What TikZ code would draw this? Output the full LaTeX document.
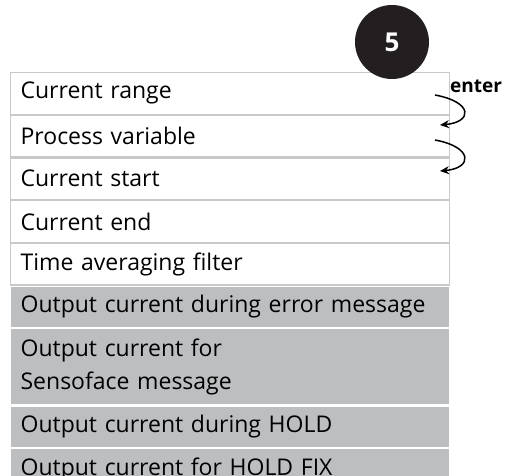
\documentclass[tikz,border=0pt]{standalone}
\usepackage{fontspec}
\setmainfont{Open Sans}
\usetikzlibrary{arrows.meta, positioning}

\definecolor{rowgray}{HTML}{BCBEC0}
\definecolor{linegray}{HTML}{C8C9CB}
\definecolor{circblack}{HTML}{231F20}

\tikzset{
  row/.style={draw=linegray, line width=1.2pt, fill=white, anchor=north west,
    minimum width=439pt, text width=419pt, inner xsep=10pt, inner ysep=0pt,
    minimum height=41.5pt, align=left, font=\fontsize{23}{33}\selectfont},
  grayrow/.style={row, fill=rowgray, draw=white},
  turn/.style={-{Stealth[length=9pt,width=8pt]}, line width=1.5pt}
}

\begin{document}
\begin{tikzpicture}[x=1pt, y=-1pt]
  \useasboundingbox (0,0) rectangle (512,475);

  % Menuezeilen
  \node[row] (range) at (10,72) {Current range};
  \node[row, below=0pt of range] (procvar) {Process variable};
  \node[row, below=0pt of procvar] (curstart) {Current start};
  \node[row, below=0pt of curstart] (curend) {Current end};
  \node[row, below=0pt of curend] (filter) {Time averaging filter};
  \node[grayrow, below=0pt of filter] (errmsg) {Output current during error message};
  \node[grayrow, below=0pt of errmsg, minimum height=76pt] (sensoface) {Output current for\\Sensoface message};
  \node[grayrow, below=0pt of sensoface] (hold) {Output current during HOLD};
  \node[grayrow, below=0pt of hold] (holdfix) {Output current for HOLD FIX};

  % Schrittnummer
  \node[circle, fill=circblack, minimum size=74pt, text=white,
    font=\fontsize{26}{26}\selectfont\bfseries] (step5) at (392,42) {5};

  % enter-Pfeile
  \node[font=\fontsize{19}{19}\selectfont\bfseries, anchor=west, inner sep=0pt] (enter) at (450,86) {enter};
  \coordinate (a1s) at (435,95);
  \coordinate (a1e) at (440,125);
  \coordinate (a2s) at (435,140);
  \coordinate (a2e) at (440,171);
  \draw[turn] (a1s) .. controls (473,102) and (473,122) .. (a1e);
  \draw[turn] (a2s) .. controls (473,147) and (473,168) .. (a2e);
\end{tikzpicture}
\end{document}
